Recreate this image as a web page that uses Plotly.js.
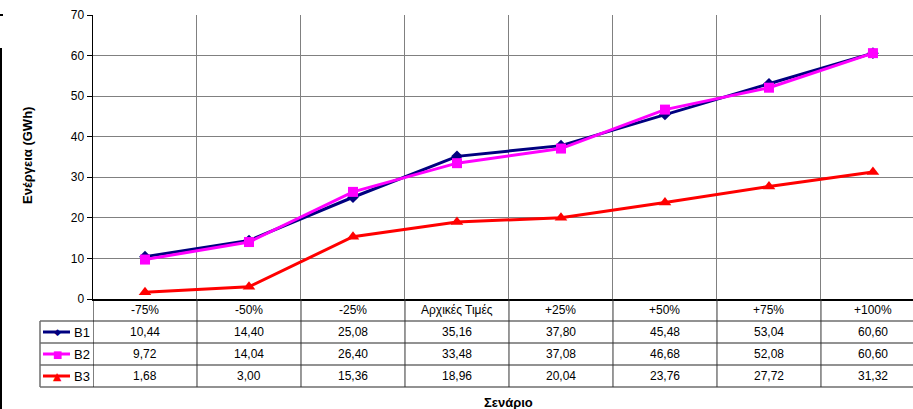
<!DOCTYPE html>
<html>
<head>
<meta charset="utf-8">
<script src="https://cdn.plot.ly/plotly-3.0.1.min.js"></script>
<style>
  html, body { margin: 0; padding: 0; background: #fff; }
  #chart { width: 913px; height: 409px; }
</style>
</head>
<body>
<div id="chart"></div>
<script>
// Scenario categories and energy per building (GWh)
const scenarios = ['-75%', '-50%', '-25%', 'Αρχικές Τιμές', '+25%', '+50%', '+75%', '+100%'];
const seriesNames = ['B1', 'B2', 'B3'];
const b1 = [10.44, 14.40, 25.08, 35.16, 37.80, 45.48, 53.04, 60.60];
const b2 = [9.72, 14.04, 26.40, 33.48, 37.08, 46.68, 52.08, 60.60];
const b3 = [1.68, 3.00, 15.36, 18.96, 20.04, 23.76, 27.72, 31.32];
const yTicks = [0, 10, 20, 30, 40, 50, 60, 70];

const colors = ['#000080', '#FF00FF', '#FF0000'];
const symbols = ['diamond', 'square', 'triangle-up'];
const markerSizes = [9, 10, 11];
const allSeries = [b1, b2, b3];

// plot area geometry (pixels)
const W = 913, H = 409;
const L = 93, T = 15, B = 299;
const PW = W - L, PH = B - T;
const xp = px => (px - L) / PW;
const yp = py => (B - py) / PH;

const font = 'Arial, "Liberation Sans", sans-serif';

const traces = allSeries.map((vals, i) => ({
  type: 'scatter',
  mode: 'lines+markers',
  name: seriesNames[i],
  x: scenarios,
  y: vals,
  line: { color: colors[i], width: 3 },
  marker: { color: colors[i], symbol: symbols[i], size: markerSizes[i] },
  cliponaxis: false,
  showlegend: false
}));

// data table rows below the x axis
const rowEdges = [299, 321, 343, 365, 387];
const rowMid = k => (rowEdges[k] + rowEdges[k + 1]) / 2;

const shapes = [];
const annotations = [];

// header labels
scenarios.forEach((s, j) => {
  annotations.push({
    xref: 'x', yref: 'paper', x: j, y: yp(rowMid(0)),
    text: s, showarrow: false, xanchor: 'center', yanchor: 'middle',
    font: { family: font, size: 12, color: '#000' }
  });
});

// value cells
allSeries.forEach((vals, i) => {
  vals.forEach((v, j) => {
    annotations.push({
      xref: 'x', yref: 'paper', x: j, y: yp(rowMid(i + 1)),
      text: v.toFixed(2).replace('.', ','), showarrow: false,
      xanchor: 'center', yanchor: 'middle',
      font: { family: font, size: 12, color: '#000' }
    });
  });
  // legend key: line, marker, name
  const yc = yp(rowMid(i + 1));
  shapes.push({
    type: 'line', xref: 'paper', yref: 'paper',
    x0: xp(43), x1: xp(70), y0: yc, y1: yc,
    line: { color: colors[i], width: 3 }
  });
  annotations.push({
    xref: 'paper', yref: 'paper', x: xp(57), y: yc,
    text: ['◆', '■', '▲'][i], showarrow: false,
    xanchor: 'center', yanchor: 'middle',
    font: { family: '"DejaVu Sans", sans-serif', size: [9, 10, 11][i], color: colors[i] }
  });
  annotations.push({
    xref: 'paper', yref: 'paper', x: xp(72), y: yc,
    text: seriesNames[i], showarrow: false,
    xanchor: 'left', yanchor: 'middle',
    font: { family: font, size: 13, color: '#000' }
  });
});

// horizontal table rules
for (let k = 1; k < rowEdges.length; k++) {
  shapes.push({
    type: 'line', xref: 'paper', yref: 'paper',
    x0: xp(40), x1: 1, y0: yp(rowEdges[k]), y1: yp(rowEdges[k]),
    line: { color: '#6e6e6e', width: 1.5 }
  });
}
// left border of legend column
shapes.push({
  type: 'line', xref: 'paper', yref: 'paper',
  x0: xp(40), x1: xp(40), y0: yp(rowEdges[1]), y1: yp(rowEdges[4]),
  line: { color: '#6e6e6e', width: 1.5 }
});
// vertical column rules in the table
for (let j = 0; j <= scenarios.length - 1; j++) {
  shapes.push({
    type: 'line', xref: 'x', yref: 'paper',
    x0: j - 0.5, x1: j - 0.5, y0: 0, y1: yp(rowEdges[4]),
    line: { color: j === 0 ? '#000' : '#333', width: 1 }
  });
}
// outer chart frame fragment on the left edge
shapes.push({
  type: 'line', xref: 'paper', yref: 'paper',
  x0: xp(1), x1: xp(1), y0: yp(48), y1: yp(409),
  line: { color: '#000', width: 2 }
});
shapes.push({
  type: 'line', xref: 'paper', yref: 'paper',
  x0: xp(0), x1: xp(3), y0: yp(15), y1: yp(15),
  line: { color: '#000', width: 2 }
});

// axis titles
annotations.push({
  xref: 'paper', yref: 'paper', x: xp(508), y: yp(402),
  text: '<b>Σενάριο</b>', showarrow: false,
  xanchor: 'center', yanchor: 'middle',
  font: { family: font, size: 13, color: '#000' }
});
annotations.push({
  xref: 'paper', yref: 'paper', x: xp(27), y: yp(156),
  text: '<b>Ενέργεια (GWh)</b>', showarrow: false, textangle: -90,
  xanchor: 'center', yanchor: 'middle',
  font: { family: font, size: 13, color: '#000' }
});

const layout = {
  width: W, height: H,
  margin: { l: L, r: 0, t: T, b: H - B, pad: 0 },
  paper_bgcolor: '#fff',
  plot_bgcolor: '#fff',
  showlegend: false,
  xaxis: {
    type: 'category',
    categoryarray: scenarios,
    range: [-0.5, 7.385],
    tickson: 'boundaries',
    showgrid: true,
    gridcolor: '#808080',
    gridwidth: 1,
    showticklabels: false,
    ticks: '',
    showline: true,
    linecolor: '#000',
    linewidth: 1.5,
    zeroline: false,
    fixedrange: true
  },
  yaxis: {
    range: [0, 70],
    tickvals: yTicks,
    ticktext: yTicks.map(String),
    showgrid: true,
    gridcolor: '#808080',
    gridwidth: 1,
    ticks: 'outside',
    ticklen: 5,
    tickcolor: '#000',
    showline: true,
    linecolor: '#000',
    linewidth: 1.5,
    zeroline: false,
    tickfont: { family: font, size: 12, color: '#000' },
    fixedrange: true
  },
  shapes: shapes,
  annotations: annotations
};

Plotly.newPlot('chart', traces, layout, { displayModeBar: false, staticPlot: true });
</script>
</body>
</html>
